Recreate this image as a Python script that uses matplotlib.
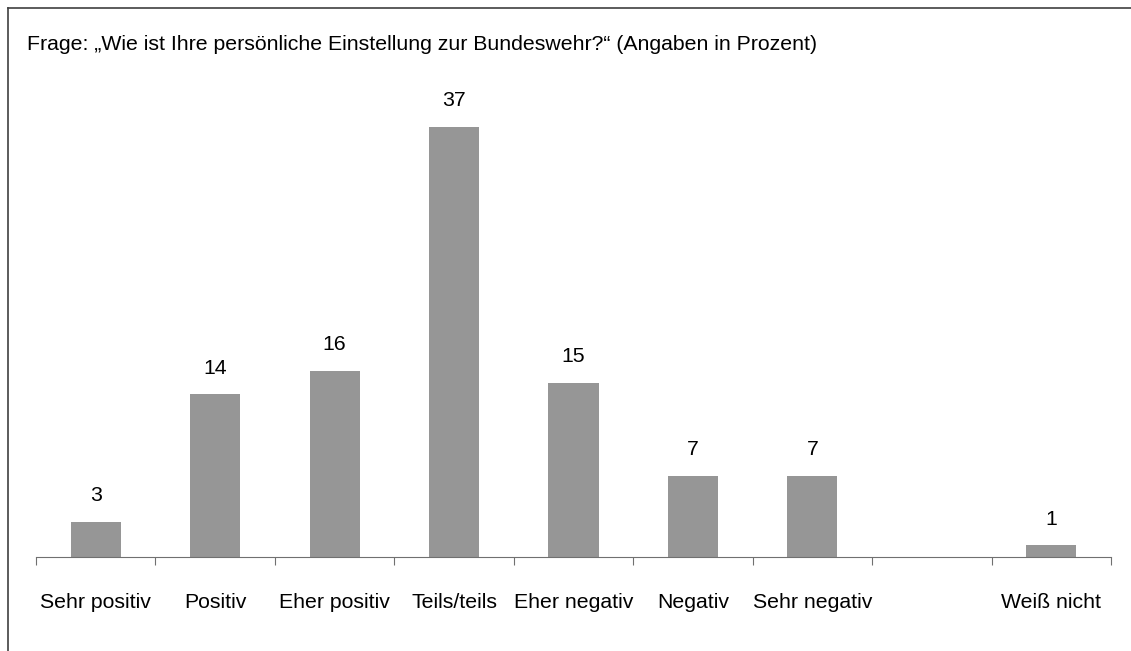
import matplotlib
matplotlib.use("Agg")
import matplotlib.pyplot as plt
from matplotlib.lines import Line2D

plt.rcParams['font.family'] = ['Liberation Sans', 'DejaVu Sans']

categories = ["Sehr positiv", "Positiv", "Eher positiv", "Teils/teils", "Eher negativ",
              "Negativ", "Sehr negativ", "", "Weiß nicht"]
values = [3, 14, 16, 37, 15, 7, 7, None, 1]
title = "Frage: \u201eWie ist Ihre persönliche Einstellung zur Bundeswehr?\u201c (Angaben in Prozent)"

FS = 15.3
W, H = 1131, 651
fig = plt.figure(figsize=(W / 100, H / 100), dpi=100)
ax = fig.add_axes([36 / W, 1 - 557 / H, (1111 - 36) / W, (557 - 92) / H])

xs = [i + 0.5 for i in range(len(categories))]
for x, v in zip(xs, values):
    if v is None:
        continue
    ax.bar(x, v, width=0.42, color="#969696", zorder=2)
    ax.annotate(str(v), (x, v), xytext=(0, 12), textcoords="offset points",
                ha="center", va="bottom", fontsize=FS)

ax.set_xlim(0, len(categories))
ax.set_ylim(0, 40)
ax.set_xticks(range(len(categories) + 1))
ax.set_xticklabels([])
ax.set_xticks(xs, minor=True)
ax.set_xticklabels(categories, minor=True, fontsize=FS)
ax.tick_params(axis="x", which="major", length=6, color="#707070", direction="out")
ax.tick_params(axis="x", which="minor", length=0, pad=26)
ax.set_yticks([])
for s in ["top", "right", "left"]:
    ax.spines[s].set_visible(False)
ax.spines["bottom"].set_color("#707070")

fig.text(27 / W, 1 - 45 / H, title, fontsize=FS, ha="left", va="center")

fig.add_artist(Line2D([8 / W, 8 / W], [0, 1 - 8 / H], color="#404040", lw=1.2, transform=fig.transFigure))
fig.add_artist(Line2D([8 / W, 1], [1 - 8 / H, 1 - 8 / H], color="#404040", lw=1.2, transform=fig.transFigure))

fig.savefig("out.png", dpi=100)
